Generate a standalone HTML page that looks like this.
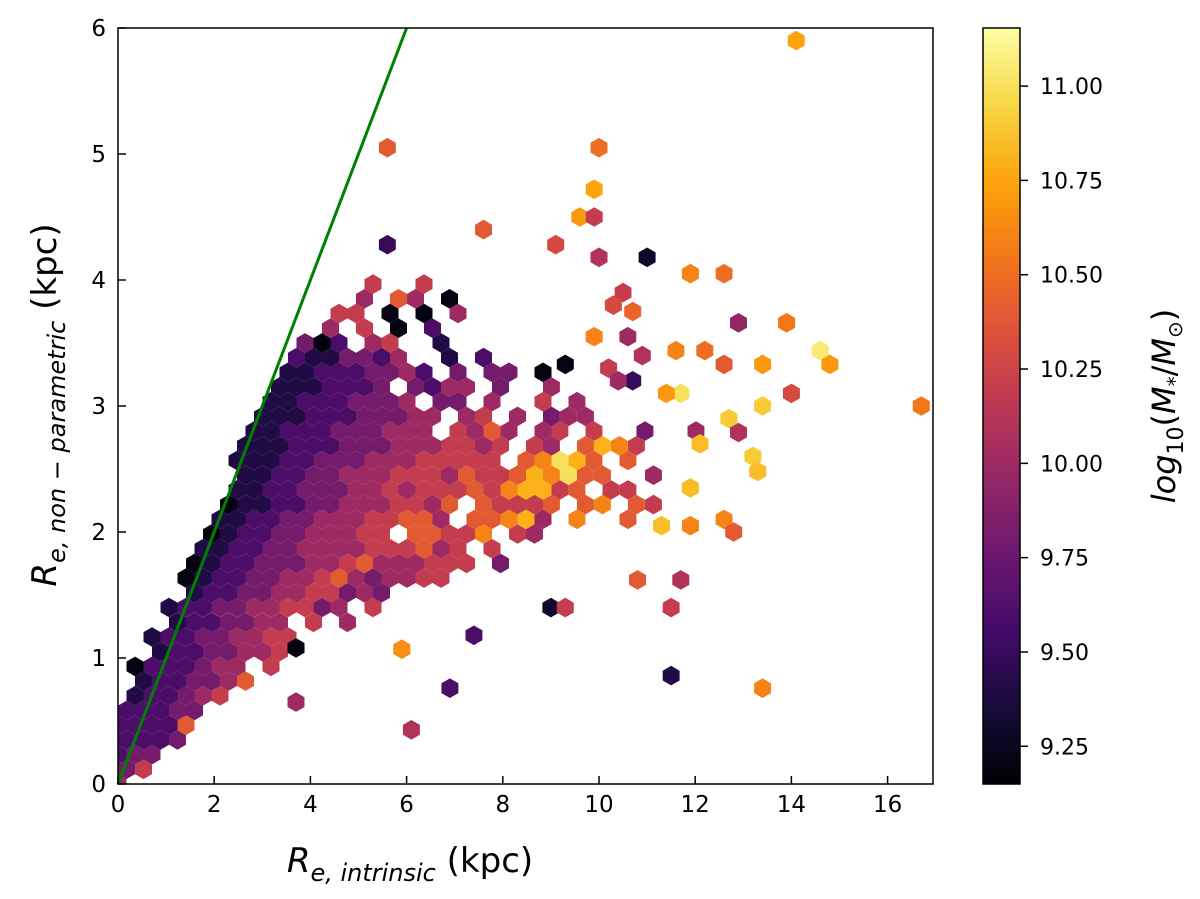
<!DOCTYPE html>
<html><head><meta charset="utf-8">
<style>
body{margin:0;background:#fff;}
svg{display:block;font-family:"DejaVu Sans","Liberation Sans",sans-serif;}
</style></head>
<body>
<svg id="chart" width="1200" height="899" viewBox="0 0 1200 899" xmlns="http://www.w3.org/2000/svg">
<defs>
<linearGradient id="inferno" x1="0" y1="1" x2="0" y2="0">
<stop offset="0" stop-color="#000004"/><stop offset="0.1" stop-color="#160b39"/><stop offset="0.2" stop-color="#420a68"/><stop offset="0.3" stop-color="#6a176e"/><stop offset="0.4" stop-color="#932667"/><stop offset="0.5" stop-color="#bc3754"/><stop offset="0.6" stop-color="#dd513a"/><stop offset="0.7" stop-color="#f37819"/><stop offset="0.8" stop-color="#fca50a"/><stop offset="0.9" stop-color="#f6d746"/><stop offset="1" stop-color="#fcffa4"/>
</linearGradient>
<clipPath id="plotclip"><rect x="118" y="28" width="815" height="756"/></clipPath>
</defs>
<g id="hexes" clip-path="url(#plotclip)"></g>
<line id="ref-line" stroke="#008000" stroke-width="3"/>
<rect x="118" y="28" width="815" height="756" fill="none" stroke="#000" stroke-width="1.5"/>
<g id="xticks"></g>
<g id="yticks"></g>
<text x="410" y="872" font-size="34" text-anchor="middle"><tspan font-style="italic">R</tspan><tspan font-size="24" dy="9" font-style="italic">e, intrinsic</tspan><tspan dy="-9"> (kpc)</tspan></text>
<text transform="translate(56,405) rotate(-90)" font-size="34" text-anchor="middle"><tspan font-style="italic">R</tspan><tspan font-size="24" dy="9" font-style="italic">e, non − parametric</tspan><tspan dy="-9"> (kpc)</tspan></text>
<rect x="983" y="28" width="37" height="756" fill="url(#inferno)" stroke="#000" stroke-width="1.5"/>
<g id="cbticks"></g>
<text transform="translate(1175,406) rotate(-90)" font-size="32" text-anchor="middle"><tspan font-style="italic">log</tspan><tspan font-size="22" dy="8">10</tspan><tspan dy="-8">(</tspan><tspan font-style="italic">M</tspan><tspan font-size="20" dy="7">*</tspan><tspan dy="-7">/</tspan><tspan font-style="italic">M</tspan><tspan font-size="20" dy="7">⊙</tspan><tspan dy="-7">)</tspan></text>
</svg>
<script>
const xTicks=[0,2,4,6,8,10,12,14,16];
const yTicks=[0,1,2,3,4,5,6];
const cbTicks=[9.25,9.5,9.75,10.0,10.25,10.5,10.75,11.0];
const cbLabels=["9.25","9.50","9.75","10.00","10.25","10.50","10.75","11.00"];
const refLine=[[0,0],[6,6]];
// dense core: [rowIndex, startColumn, colour codes (digit d -> 9.2+0.2d, '.' = empty)]
const coreRows=[
[0,0,"4"],[1,0,"35"],[2,0,"233"],[3,0,"2223"],[4,0,"22226"],[5,0,"22233"],
[6,1,"122345"],[7,1,"1223346"],[8,1,"0222344.5"],[9,2,"12233445"],[10,2,"122334455"],
[11,3,"1223344.5.4"],[12,3,"12233445534.5"],[13,4,"122334455343"],[14,4,"0122334456434455"],
[15,4,"01223334456444555.3"],[16,5,"1122334444555645.5"],[17,5,"01223344455.66557.54"],
[18,6,"11223344455664.66784.7..6"],[19,6,"01122334445546.65556.67.65"],
[20,7,"112233344545556578856.55"],[21,7,"1122334445554655687966..4"],
[22,7,"1112233344455555.67986.6"],[23,7,"1112223334445545.54.6875"],
[24,8,"11222333444.5464.45.5..3..4"],[25,8,"11122233344.45.4.344."],
[26,9,"112223334.33.4..5.4"],[27,9,"1112223.3244.3..4"],[28,10,"112223342.3.33.0"],
[29,10,"2113324..1.2"],[30,11,"302.45..1"],[31,12,"4.5.0.2"],[32,13,"55.0.0.4"],
[33,14,"4.64.0"],[34,15,"5..5"]
];
const outX=[5.6,10.0,9.9,9.6,9.9,7.6,5.6,9.1,10.0,11.0,14.1,11.9,12.6,16.7,14.6,14.8,13.9,14.0,13.4,13.4,13.2,13.3,12.7,12.9,12.9,11.7,11.4,12.1,12.6,11.9,11.9,12.8,11.3,10.8,11.5,11.7,11.5,13.4,6.9,6.1,9.0,9.3,7.4,3.7,3.7,5.9,12.2,12.6,11.6,10.9,10.2,10.7,10.4,10.6,9.9,9.3,10.5,10.3,10.7];
const outY=[5.05,5.05,4.72,4.5,4.5,4.4,4.28,4.28,4.18,4.18,5.9,4.05,4.05,3.0,3.44,3.33,3.66,3.1,3.33,3.0,2.6,2.48,2.9,3.66,2.79,3.1,3.1,2.7,2.1,2.35,2.05,2.0,2.05,1.62,1.4,1.62,0.86,0.76,0.76,0.43,1.4,1.4,1.18,0.65,1.08,1.07,3.44,3.33,3.44,3.4,3.3,3.2,3.2,3.55,3.55,3.33,3.9,3.8,3.75];
const outV=[10.4,10.5,10.75,10.7,10.2,10.4,9.5,10.3,10.1,9.3,10.75,10.6,10.5,10.55,11.05,10.7,10.55,10.3,10.7,10.9,10.9,10.85,10.9,9.95,10.1,11.0,10.7,10.85,10.6,10.85,10.6,10.4,10.85,10.4,10.2,10.1,9.4,10.6,9.6,10.1,9.3,10.2,9.6,10.0,9.2,10.65,10.5,10.4,10.6,10.1,10.2,9.5,10.0,10.0,10.6,9.2,10.2,10.3,10.45];

const X0=118,X1=933,XMIN=0,XMAX=(933-118)/48.1;
const Y0=784,Y1=28,YMIN=0,YMAX=6;
const VMIN=9.15,VMAX=11.154;
const DX=0.3534,DY=0.1167,R=9.8;
function sx(v){return X0+(v-XMIN)/(XMAX-XMIN)*(X1-X0);}
function sy(v){return Y0-(v-YMIN)/(YMAX-YMIN)*(Y0-Y1);}
function cy(v){return 784-(v-VMIN)/(VMAX-VMIN)*756;}
const stops=["#000004","#160b39","#420a68","#6a176e","#932667","#bc3754","#dd513a","#f37819","#fca50a","#f6d746","#fcffa4"];
function hex2(c){return [1,3,5].map(i=>parseInt(c.substr(i,2),16));}
function cmap(v){let t=Math.max(0,Math.min(1,(v-VMIN)/(VMAX-VMIN)))*10;let i=Math.min(9,Math.floor(t));let f=t-i;
 const a=hex2(stops[i]),b=hex2(stops[i+1]);return "rgb("+a.map((x,k)=>Math.round(x+(b[k]-x)*f)).join(",")+")";}
const NS="http://www.w3.org/2000/svg";
function mk(tag,attrs,parent){const e=document.createElementNS(NS,tag);for(const k in attrs)e.setAttribute(k,attrs[k]);parent.appendChild(e);return e;}
function hexPts(px,py){let p=[];for(let k=0;k<6;k++){const a=Math.PI/180*(60*k-90);p.push((px+R*Math.cos(a)).toFixed(1)+","+(py+R*Math.sin(a)).toFixed(1));}return p.join(" ");}
const g=document.getElementById('hexes');
function addHex(x,y,v){
 const h=mk('polygon',{points:hexPts(sx(x),sy(y)),fill:cmap(v)},g);
 
 
}
coreRows.forEach(([r,c0,s])=>{
 for(let i=0;i<s.length;i++){const ch=s[i];if(ch==='.')continue;
  const col=c0+i;const x=col*DX+(r%2?DX/2:0);const y=r*DY;addHex(x,y,9.2+0.2*parseInt(ch));}
});
for(let i=0;i<outX.length;i++)addHex(outX[i],outY[i],outV[i]);
const ln=document.getElementById('ref-line');
ln.setAttribute('x1',sx(refLine[0][0]));ln.setAttribute('y1',sy(refLine[0][1]));
ln.setAttribute('x2',sx(refLine[1][0]));ln.setAttribute('y2',sy(refLine[1][1]));
const xg=document.getElementById('xticks');
xTicks.forEach(t=>{
 const l=mk('line',{x1:sx(t),x2:sx(t),y1:784,y2:776,stroke:'#000','stroke-width':1.5},xg);
 
 
 const tx=mk('text',{x:sx(t),y:812,'font-size':23,'text-anchor':'middle'},xg);tx.textContent=t;
 
 
});
const yg=document.getElementById('yticks');
yTicks.forEach(t=>{
 const l=mk('line',{x1:118,x2:126,y1:sy(t),y2:sy(t),stroke:'#000','stroke-width':1.5},yg);
 
 
 const tx=mk('text',{x:106,y:sy(t)+8,'font-size':23,'text-anchor':'end'},yg);tx.textContent=t;
 
 
});
const cg=document.getElementById('cbticks');
cbTicks.forEach((t,i)=>{
 const l=mk('line',{x1:1020,x2:1028,y1:cy(t),y2:cy(t),stroke:'#000','stroke-width':1.5},cg);
 
 
 const tx=mk('text',{x:1040,y:cy(t)+8,'font-size':22},cg);tx.textContent=cbLabels[i];
 
 
});
</script>
</body></html>
